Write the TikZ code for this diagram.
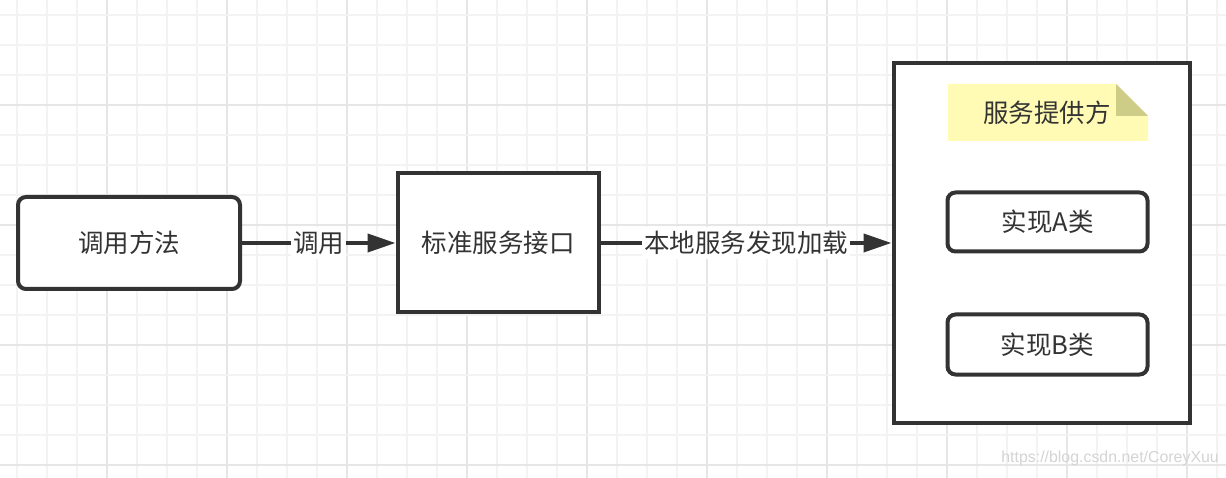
\documentclass[tikz,border=0pt]{standalone}
\usepackage{fontspec}
\setmainfont{Noto Sans CJK SC}
\newfontfamily\wmfont{Liberation Sans}
\usetikzlibrary{arrows.meta}
\definecolor{ink}{HTML}{333333}
\definecolor{minorg}{HTML}{F3F3F3}
\definecolor{majorg}{HTML}{E6E6E6}
\definecolor{notefill}{HTML}{FFFBB4}
\definecolor{notefold}{HTML}{CDCD88}
\definecolor{wm}{HTML}{D4D4D4}
\tikzset{
  minorgrid/.style={draw=minorg, line width=2pt},
  majorgrid/.style={draw=majorg, line width=2pt},
  boxbase/.style={draw=ink, line width=4pt, fill=white, text=ink, font=\fontsize{25.5}{30}\selectfont, inner sep=0pt},
  rbox/.style={boxbase, rounded corners=8pt},
  sbox/.style={boxbase},
  conn/.style={draw=ink, line width=4pt, -{Triangle[length=28pt, width=18pt]}},
  lbl/.style={fill=white, text=ink, font=\fontsize{25.5}{30}\selectfont, inner xsep=2pt, inner ysep=4pt},
  notetext/.style={text=ink, font=\fontsize{25.5}{30}\selectfont, inner sep=0pt},
}
\begin{document}
\begin{tikzpicture}[x=1pt, y=-1pt]
\useasboundingbox (0,0) rectangle (1226,478);
\fill[white] (0,0) rectangle (1226,478);
% grid
\foreach \i in {0,...,40} {
  \pgfmathtruncatemacro{\m}{mod(\i,4)}
  \ifnum\m=3
    \draw[majorgrid] ({16.7+30*\i},0) -- ({16.7+30*\i},478);
  \else
    \draw[minorgrid] ({16.7+30*\i},0) -- ({16.7+30*\i},478);
  \fi
}
\foreach \j in {0,...,15} {
  \pgfmathtruncatemacro{\m}{mod(\j,4)}
  \ifnum\m=3
    \draw[majorgrid] (0,{15+30*\j}) -- (1226,{15+30*\j});
  \else
    \draw[minorgrid] (0,{15+30*\j}) -- (1226,{15+30*\j});
  \fi
}
% nodes
\node[rbox, minimum width=222pt, minimum height=92pt] (call) at (129,243) {调用方法};
\node[sbox, minimum width=201pt, minimum height=139pt] (iface) at (498,243) {标准服务接口};
\node[sbox, minimum width=296pt, minimum height=359pt] (prov) at (1041.5,243) {};
% note
\fill[notefill] (948,84) -- (1116,84) -- (1148,116) -- (1148,141) -- (948,141) -- cycle;
\fill[notefold] (1116,84) -- (1116,116) -- (1148,116) -- cycle;
\node[notetext] (notelbl) at (1047,113) {服务提供方};
\node[rbox, minimum width=200pt, minimum height=59pt] (implA) at (1047.5,222) {实现A类};
\node[rbox, minimum width=200pt, minimum height=60pt] (implB) at (1047.5,344.5) {实现B类};
% connectors
\draw[conn] (call.east) -- node[lbl] (l1) {调用} (iface.west);
\draw[conn] (iface.east) -- node[lbl] (l2) {本地服务发现加载} (prov.west);
% watermark
\node[anchor=east, text=wm, font=\wmfont\fontsize{15.9}{19}\selectfont, inner sep=0pt] (wmark) at (1219,458) {https://blog.csdn.net/CoreyXuu};
\end{tikzpicture}
\end{document}
